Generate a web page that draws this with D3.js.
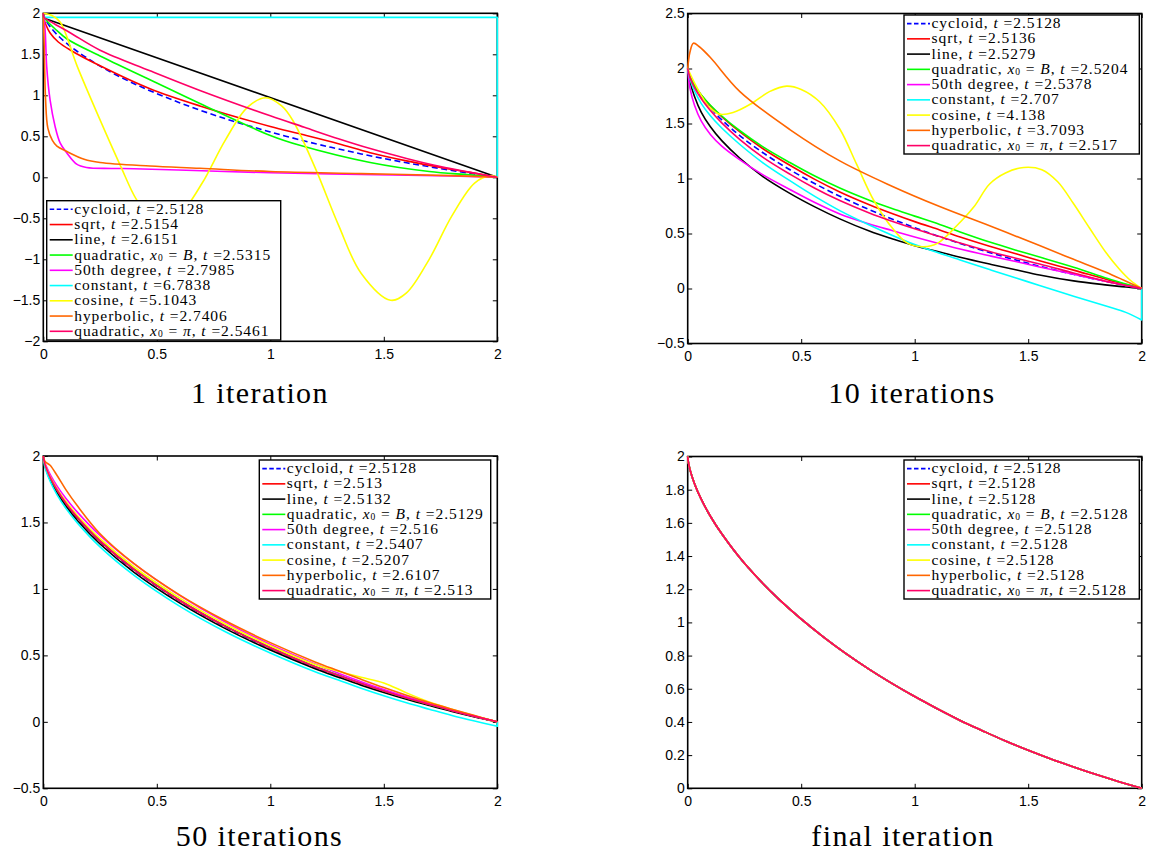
<!DOCTYPE html>
<html>
<head>
<meta charset="utf-8">
<script src="https://cdn.jsdelivr.net/npm/d3@7"></script>
<style>
  body { margin: 0; background: #fff; }
  svg { display: block; }
</style>
</head>
<body>
<svg id="chart" width="1151" height="856"></svg>
<script>
// ---------------------------------------------------------------
// Series definitions (shared by all four panels)
// ---------------------------------------------------------------
const seriesLabels = [
  "cycloid", "sqrt", "line", "quadratic, *x*_0 = *B*", "50th degree",
  "constant", "cosine", "hyperbolic", "quadratic, *x*_0 = *π*"
];
const seriesColors = [
  "#0000ff", "#ff0000", "#000000", "#00ff00", "#ff00ff",
  "#00ffff", "#ffff00", "#ff6600", "#ff0066"
];
const seriesDashed = [true, false, false, false, false, false, false, false, false];

// travel times shown in the legends
const times1 = [2.5128, 2.5154, 2.6151, 2.5315, 2.7985, 6.7838, 5.1043, 2.7406, 2.5461];
const times10 = [2.5128, 2.5136, 2.5279, 2.5204, 2.5378, 2.707, 4.138, 3.7093, 2.517];
const times50 = [2.5128, 2.513, 2.5132, 2.5129, 2.516, 2.5407, 2.5207, 2.6107, 2.513];
const timesFinal = [2.5128, 2.5128, 2.5128, 2.5128, 2.5128, 2.5128, 2.5128, 2.5128, 2.5128];

// ---------------------------------------------------------------
// Curve samples
// ---------------------------------------------------------------
// common x grid and the cycloid (reference optimum)
const gridX = [0, 0.002, 0.01, 0.03, 0.06, 0.1, 0.15, 0.25, 0.4, 0.6, 0.8, 1.0, 1.2, 1.3, 1.4, 1.5, 1.6, 1.7, 1.8, 1.9, 2];
const cycloidY = [2, 1.973, 1.921, 1.836, 1.741, 1.640, 1.534, 1.356, 1.142, 0.910, 0.717, 0.553, 0.409, 0.346, 0.285, 0.229, 0.177, 0.129, 0.083, 0.040, 0];

// --- 1 iteration ---
const it1SqrtX = [0, 0.003, 0.01, 0.03, 0.066, 0.12, 0.25, 0.47, 0.69, 1.0, 1.13, 1.3, 1.44, 1.6, 1.75, 1.88, 2];
const it1SqrtY = [2, 1.93, 1.87, 1.76, 1.65, 1.55, 1.36, 1.08, 0.87, 0.62, 0.53, 0.41, 0.30, 0.20, 0.12, 0.06, 0];
const it1LineX = [0, 0.004, 2];
const it1LineY = [2, 1.94, 0];
const it1QuadBX = [0, 0.004, 0.015, 0.05, 0.103, 0.25, 0.47, 0.69, 1.0, 1.13, 1.44, 1.7, 1.88, 2];
const it1QuadBY = [2, 1.95, 1.91, 1.815, 1.69, 1.48, 1.19, 0.90, 0.51, 0.39, 0.18, 0.07, 0.03, 0];
const it1Deg50X = [0, 0.008, 0.015, 0.03, 0.052, 0.074, 0.103, 0.147, 0.19, 0.3, 0.4, 0.7, 1.0, 1.4, 1.8, 2];
const it1Deg50Y = [2, 1.8, 1.35, 0.94, 0.62, 0.42, 0.30, 0.16, 0.12, 0.108, 0.105, 0.08, 0.055, 0.035, 0.015, 0];
const it1ConstX = [0, 0.002, 2, 2];
const it1ConstY = [2, 1.95, 1.95, 0];
const it1CosX = [0, 0.04, 0.075, 0.15, 0.25, 0.34, 0.41, 0.47, 0.53, 0.6, 0.7, 0.8, 0.9, 0.98, 1.05, 1.1, 1.2, 1.3, 1.4, 1.53, 1.6, 1.7, 1.8, 1.9, 1.97, 2];
const it1CosY = [2, 1.97, 1.89, 1.35, 0.70, 0.14, -0.27, -0.48, -0.55, -0.46, -0.07, 0.445, 0.855, 0.97, 0.87, 0.69, 0.1, -0.58, -1.17, -1.5, -1.41, -1.0, -0.47, -0.07, 0.02, 0];
const it1HypX = [0, 0.004, 0.01, 0.02, 0.04, 0.06, 0.1, 0.18, 0.25, 0.47, 0.69, 1.0, 1.4, 1.8, 2];
const it1HypY = [2, 1.6, 0.95, 0.6, 0.45, 0.38, 0.32, 0.22, 0.18, 0.137, 0.11, 0.07, 0.045, 0.02, 0];
const it1QuadPiX = [0, 0.004, 0.05, 0.12, 0.25, 0.47, 0.69, 1.0, 1.15, 1.3, 1.44, 1.6, 1.75, 1.88, 2];
const it1QuadPiY = [2, 1.95, 1.87, 1.76, 1.55, 1.30, 1.06, 0.75, 0.61, 0.47, 0.35, 0.23, 0.13, 0.06, 0];

// --- 10 iterations ---
const it10X = [0, 0.01, 0.03, 0.06, 0.1, 0.15, 0.23, 0.33, 0.45, 0.56, 0.67, 0.8, 0.9, 1.0, 1.11, 1.2, 1.33, 1.45, 1.55, 1.7, 1.85, 1.93, 2];
const it10SqrtY = [2, 1.925, 1.846, 1.757, 1.662, 1.562, 1.423, 1.273, 1.120, 0.992, 0.878, 0.762, 0.682, 0.608, 0.532, 0.469, 0.385, 0.313, 0.253, 0.167, 0.079, 0.036, 0];
const it10LineY = [2, 1.881, 1.746, 1.601, 1.47, 1.344, 1.184, 1.02, 0.865, 0.742, 0.633, 0.522, 0.452, 0.388, 0.332, 0.284, 0.222, 0.168, 0.123, 0.069, 0.031, 0.013, 0];
const it10QuadBY = [2, 1.925, 1.846, 1.759, 1.666, 1.568, 1.434, 1.290, 1.145, 1.022, 0.913, 0.802, 0.727, 0.658, 0.582, 0.514, 0.422, 0.346, 0.286, 0.194, 0.091, 0.041, 0];
const it10Deg50Y = [2, 1.821, 1.666, 1.521, 1.40, 1.294, 1.169, 1.035, 0.90, 0.782, 0.678, 0.587, 0.527, 0.468, 0.407, 0.359, 0.297, 0.243, 0.196, 0.129, 0.061, 0.028, 0];
const it10QuadPiY = [2, 1.917, 1.826, 1.725, 1.618, 1.506, 1.354, 1.195, 1.040, 0.912, 0.800, 0.687, 0.612, 0.543, 0.472, 0.414, 0.337, 0.273, 0.223, 0.141, 0.061, 0.028, 0];
const it10ConstX = [0, 0.01, 0.03, 0.06, 0.1, 0.15, 0.23, 0.33, 0.45, 0.56, 0.67, 0.8, 0.9, 1.0, 1.11, 1.2, 1.33, 1.45, 1.55, 1.7, 1.85, 1.93, 2, 2];
const it10ConstY = [2, 1.901, 1.796, 1.681, 1.57, 1.459, 1.309, 1.145, 0.98, 0.837, 0.708, 0.577, 0.485, 0.40, 0.32, 0.259, 0.172, 0.093, 0.028, -0.071, -0.164, -0.217, -0.286, 0];
const it10CosX = [0, 0.03, 0.07, 0.1, 0.14, 0.2, 0.28, 0.36, 0.436, 0.5, 0.58, 0.67, 0.744, 0.82, 0.905, 0.97, 1.04, 1.1, 1.185, 1.26, 1.33, 1.4, 1.48, 1.56, 1.63, 1.7, 1.77, 1.845, 1.9, 1.95, 2];
const it10CosY = [2, 1.87, 1.72, 1.64, 1.585, 1.6, 1.68, 1.79, 1.84, 1.81, 1.70, 1.45, 1.13, 0.80, 0.54, 0.41, 0.38, 0.41, 0.57, 0.74, 0.95, 1.05, 1.10, 1.08, 0.97, 0.77, 0.55, 0.32, 0.18, 0.075, 0];
const it10HypX = [0, 0.01, 0.025, 0.05, 0.1, 0.23, 0.45, 0.67, 0.9, 1.11, 1.33, 1.55, 1.7, 1.84, 2];
const it10HypY = [2, 2.15, 2.23, 2.2, 2.1, 1.79, 1.445, 1.16, 0.93, 0.745, 0.57, 0.39, 0.265, 0.15, 0];

// --- 50 iterations (sampled on gridX) ---
const it50SqrtY = [2, 1.972, 1.92, 1.835, 1.740, 1.640, 1.535, 1.358, 1.145, 0.913, 0.720, 0.556, 0.412, 0.349, 0.288, 0.231, 0.179, 0.130, 0.084, 0.041, 0];
const it50LineY = [2, 1.965, 1.91, 1.822, 1.725, 1.622, 1.515, 1.338, 1.125, 0.895, 0.703, 0.540, 0.398, 0.336, 0.276, 0.221, 0.170, 0.123, 0.078, 0.037, 0];
const it50QuadBY = [2, 1.972, 1.92, 1.838, 1.745, 1.646, 1.541, 1.364, 1.150, 0.918, 0.724, 0.560, 0.415, 0.352, 0.290, 0.233, 0.180, 0.131, 0.085, 0.041, 0];
const it50Deg50Y = [2, 1.975, 1.935, 1.862, 1.775, 1.680, 1.578, 1.402, 1.188, 0.952, 0.752, 0.582, 0.433, 0.366, 0.302, 0.243, 0.188, 0.137, 0.088, 0.043, 0];
const it50ConstX = [0, 0.002, 0.01, 0.03, 0.06, 0.1, 0.15, 0.25, 0.4, 0.6, 0.8, 1.0, 1.2, 1.3, 1.4, 1.5, 1.6, 1.7, 1.8, 1.9, 2, 2];
const it50ConstY = [2, 1.96, 1.90, 1.81, 1.71, 1.605, 1.497, 1.316, 1.102, 0.871, 0.680, 0.518, 0.375, 0.314, 0.253, 0.196, 0.143, 0.095, 0.048, 0.006, -0.033, 0];
const it50CosY = [2, 1.974, 1.925, 1.845, 1.755, 1.657, 1.553, 1.378, 1.165, 0.933, 0.738, 0.573, 0.43, 0.38, 0.335, 0.293, 0.218, 0.15, 0.095, 0.045, 0];
const it50HypY = [2, 1.98, 1.955, 1.93, 1.855, 1.745, 1.625, 1.415, 1.19, 0.955, 0.762, 0.596, 0.449, 0.384, 0.32, 0.258, 0.2, 0.145, 0.095, 0.047, 0];
const it50QuadPiY = [2, 1.973, 1.923, 1.84, 1.746, 1.645, 1.539, 1.361, 1.147, 0.915, 0.722, 0.558, 0.413, 0.35, 0.289, 0.232, 0.179, 0.131, 0.084, 0.041, 0];

// ---------------------------------------------------------------
// Panel setup
// ---------------------------------------------------------------
const xTicks = [0, 0.5, 1, 1.5, 2];
const yTicks1 = [-2, -1.5, -1, -0.5, 0, 0.5, 1, 1.5, 2];
const yTicks10 = [-0.5, 0, 0.5, 1, 1.5, 2, 2.5];
const yTicks50 = [-0.5, 0, 0.5, 1, 1.5, 2];
const yTicksFinal = [0, 0.2, 0.4, 0.6, 0.8, 1, 1.2, 1.4, 1.6, 1.8, 2];
const panelTitles = ["1 iteration", "10 iterations", "50 iterations", "final iteration"];

const pair = (xs, ys) => xs.map((x, i) => [x, ys[i]]);

const panels = [
  {
    title: panelTitles[0], yDomain: [-2, 2], yTicks: yTicks1, times: times1,
    box: { x0: 43.3, x1: 497.3, y0: 13.3, y1: 341.3 },
    legend: { x: 46.7, y: 200.7, w: 234, h: 139.3 },
    titlePos: { x: 260, y: 403 },
    straight: [2, 5],
    curves: [
      pair(gridX, cycloidY), pair(it1SqrtX, it1SqrtY), pair(it1LineX, it1LineY),
      pair(it1QuadBX, it1QuadBY), pair(it1Deg50X, it1Deg50Y), pair(it1ConstX, it1ConstY),
      pair(it1CosX, it1CosY), pair(it1HypX, it1HypY), pair(it1QuadPiX, it1QuadPiY)
    ]
  },
  {
    title: panelTitles[1], yDomain: [-0.5, 2.5], yTicks: yTicks10, times: times10,
    box: { x0: 687.7, x1: 1141.7, y0: 13.5, y1: 343.5 },
    legend: { x: 904, y: 15, w: 235.3, h: 139 },
    titlePos: { x: 912, y: 403 },
    straight: [],
    curves: [
      pair(gridX, cycloidY), pair(it10X, it10SqrtY), pair(it10X, it10LineY),
      pair(it10X, it10QuadBY), pair(it10X, it10Deg50Y), pair(it10ConstX, it10ConstY),
      pair(it10CosX, it10CosY), pair(it10HypX, it10HypY), pair(it10X, it10QuadPiY)
    ]
  },
  {
    title: panelTitles[2], yDomain: [-0.5, 2], yTicks: yTicks50, times: times50,
    box: { x0: 43.3, x1: 497.3, y0: 456, y1: 788.3 },
    legend: { x: 259.3, y: 460, w: 231.4, h: 139 },
    titlePos: { x: 259.5, y: 846 },
    straight: [],
    curves: [
      pair(gridX, cycloidY), pair(gridX, it50SqrtY), pair(gridX, it50LineY),
      pair(gridX, it50QuadBY), pair(gridX, it50Deg50Y), pair(it50ConstX, it50ConstY),
      pair(gridX, it50CosY), pair(gridX, it50HypY), pair(gridX, it50QuadPiY)
    ]
  },
  {
    title: panelTitles[3], yDomain: [0, 2], yTicks: yTicksFinal, times: timesFinal,
    box: { x0: 687.7, x1: 1141.7, y0: 456.5, y1: 788.3 },
    legend: { x: 904, y: 460, w: 235.3, h: 139 },
    titlePos: { x: 903, y: 846 },
    straight: [],
    curves: seriesLabels.map(() => pair(gridX, cycloidY))
  }
];

// ---------------------------------------------------------------
// Drawing
// ---------------------------------------------------------------
const svg = d3.select("#chart");
const TICK_FONT = "'Liberation Sans', Arial, Helvetica, sans-serif";
const SERIF_FONT = "'Liberation Serif', 'Times New Roman', serif";
const fmt = d => (d < 0 ? "\u2212" + Math.abs(d) : String(d));

// light markup parser: *...* italic, _n subscript
function labelSegments(label, time) {
  const parts = (label + ", *t* =" + time).split(/(\*[^*]+\*|_\d)/).filter(s => s.length);
  return parts.map(p => {
    if (p.startsWith("*")) return { text: p.slice(1, -1), style: "italic" };
    if (p.startsWith("_")) return { text: p.slice(1), style: "sub" };
    return { text: p, style: "normal" };
  });
}

panels.forEach(p => {
  const b = p.box;
  const x = d3.scaleLinear().domain([0, 2]).range([b.x0, b.x1]);
  const y = d3.scaleLinear().domain(p.yDomain).range([b.y1, b.y0]);
  const g = svg.append("g");

  // axes (ticks pointing inward on all four sides)
  const tick = 4.5;
  const styleAxis = sel => {
    sel.select(".domain").remove();
    sel.selectAll(".tick line").attr("stroke", "#000").attr("stroke-width", 1);
    sel.selectAll(".tick text")
      .attr("font-family", TICK_FONT).attr("font-size", 14).attr("fill", "#000");
  };
  g.append("g").attr("transform", `translate(0,${b.y1})`)
    .call(d3.axisBottom(x).tickValues(xTicks).tickFormat(fmt).tickSize(-tick).tickPadding(7.5))
    .call(styleAxis);
  g.append("g").attr("transform", `translate(0,${b.y0})`)
    .call(d3.axisTop(x).tickValues(xTicks).tickFormat("").tickSize(-tick))
    .call(styleAxis);
  g.append("g").attr("transform", `translate(${b.x0},0)`)
    .call(d3.axisLeft(y).tickValues(p.yTicks).tickFormat(fmt).tickSize(-tick).tickPadding(3))
    .call(styleAxis);
  g.append("g").attr("transform", `translate(${b.x1},0)`)
    .call(d3.axisRight(y).tickValues(p.yTicks).tickFormat("").tickSize(-tick))
    .call(styleAxis);

  g.append("rect")
    .attr("x", b.x0).attr("y", b.y0)
    .attr("width", b.x1 - b.x0).attr("height", b.y1 - b.y0)
    .attr("fill", "none").attr("stroke", "#000").attr("stroke-width", 1.6);

  // curves: smooth through the samples; a trailing vertical drop is drawn straight
  const smooth = d3.line().x(d => x(d[0])).y(d => y(d[1])).curve(d3.curveCatmullRom.alpha(0.5));
  const straight = d3.line().x(d => x(d[0])).y(d => y(d[1]));
  p.curves.forEach((pts, i) => {
    let d;
    if (p.straight.includes(i)) {
      d = straight(pts);
    } else {
      let n = pts.length;
      while (n > 2 && pts[n - 1][0] === pts[n - 2][0]) n--;
      d = smooth(pts.slice(0, n));
      pts.slice(n).forEach(q => { d += `L${x(q[0])},${y(q[1])}`; });
    }
    g.append("path")
      .attr("d", d)
      .attr("fill", "none")
      .attr("stroke", seriesColors[i])
      .attr("stroke-width", 1.6)
      .attr("stroke-linejoin", "round")
      .attr("stroke-dasharray", seriesDashed[i] ? "6,3.5" : null);
  });

  // legend
  const L = p.legend;
  const lg = g.append("g").attr("transform", `translate(${L.x},${L.y})`);
  lg.append("rect").attr("width", L.w).attr("height", L.h)
    .attr("fill", "#fff").attr("stroke", "#000").attr("stroke-width", 1.4);
  const rowStep = 15.25, rowTop = 8.6;
  const textAt = (x0, y0, size) => lg.append("text")
    .attr("x", x0).attr("y", y0)
    .attr("font-family", SERIF_FONT).attr("font-size", size)
    .attr("letter-spacing", 0.95)
    .style("white-space", "pre")
    .attr("fill", "#000");
  seriesLabels.forEach((lab, i) => {
    const cy = rowTop + i * rowStep;
    lg.append("line")
      .attr("x1", 3).attr("x2", 26).attr("y1", cy).attr("y2", cy)
      .attr("stroke", seriesColors[i]).attr("stroke-width", 1.6)
      .attr("stroke-dasharray", seriesDashed[i] ? "4.5,2.5" : null);
    // subscripts are set as their own small text so each row keeps its height
    let cursor = 27.5, run = null, runStart = 0;
    labelSegments(lab, p.times[i]).forEach(s => {
      if (s.style === "sub") {
        const st = textAt(cursor, cy + 5.6, 9.5).text(s.text);
        cursor += st.node().getComputedTextLength();
        run = null;
      } else {
        if (!run) { run = textAt(cursor, cy + 4.6, 15.5); runStart = cursor; }
        const ts = run.append("tspan").text(s.text);
        if (s.style === "italic") ts.attr("font-style", "italic");
        cursor = runStart + run.node().getComputedTextLength();
      }
    });
  });

  // caption
  svg.append("text")
    .attr("x", p.titlePos.x).attr("y", p.titlePos.y)
    .attr("text-anchor", "middle")
    .attr("font-family", SERIF_FONT).attr("font-size", 30)
    .attr("letter-spacing", 1.4)
    .attr("fill", "#000")
    .text(p.title);
});
</script>
</body>
</html>
